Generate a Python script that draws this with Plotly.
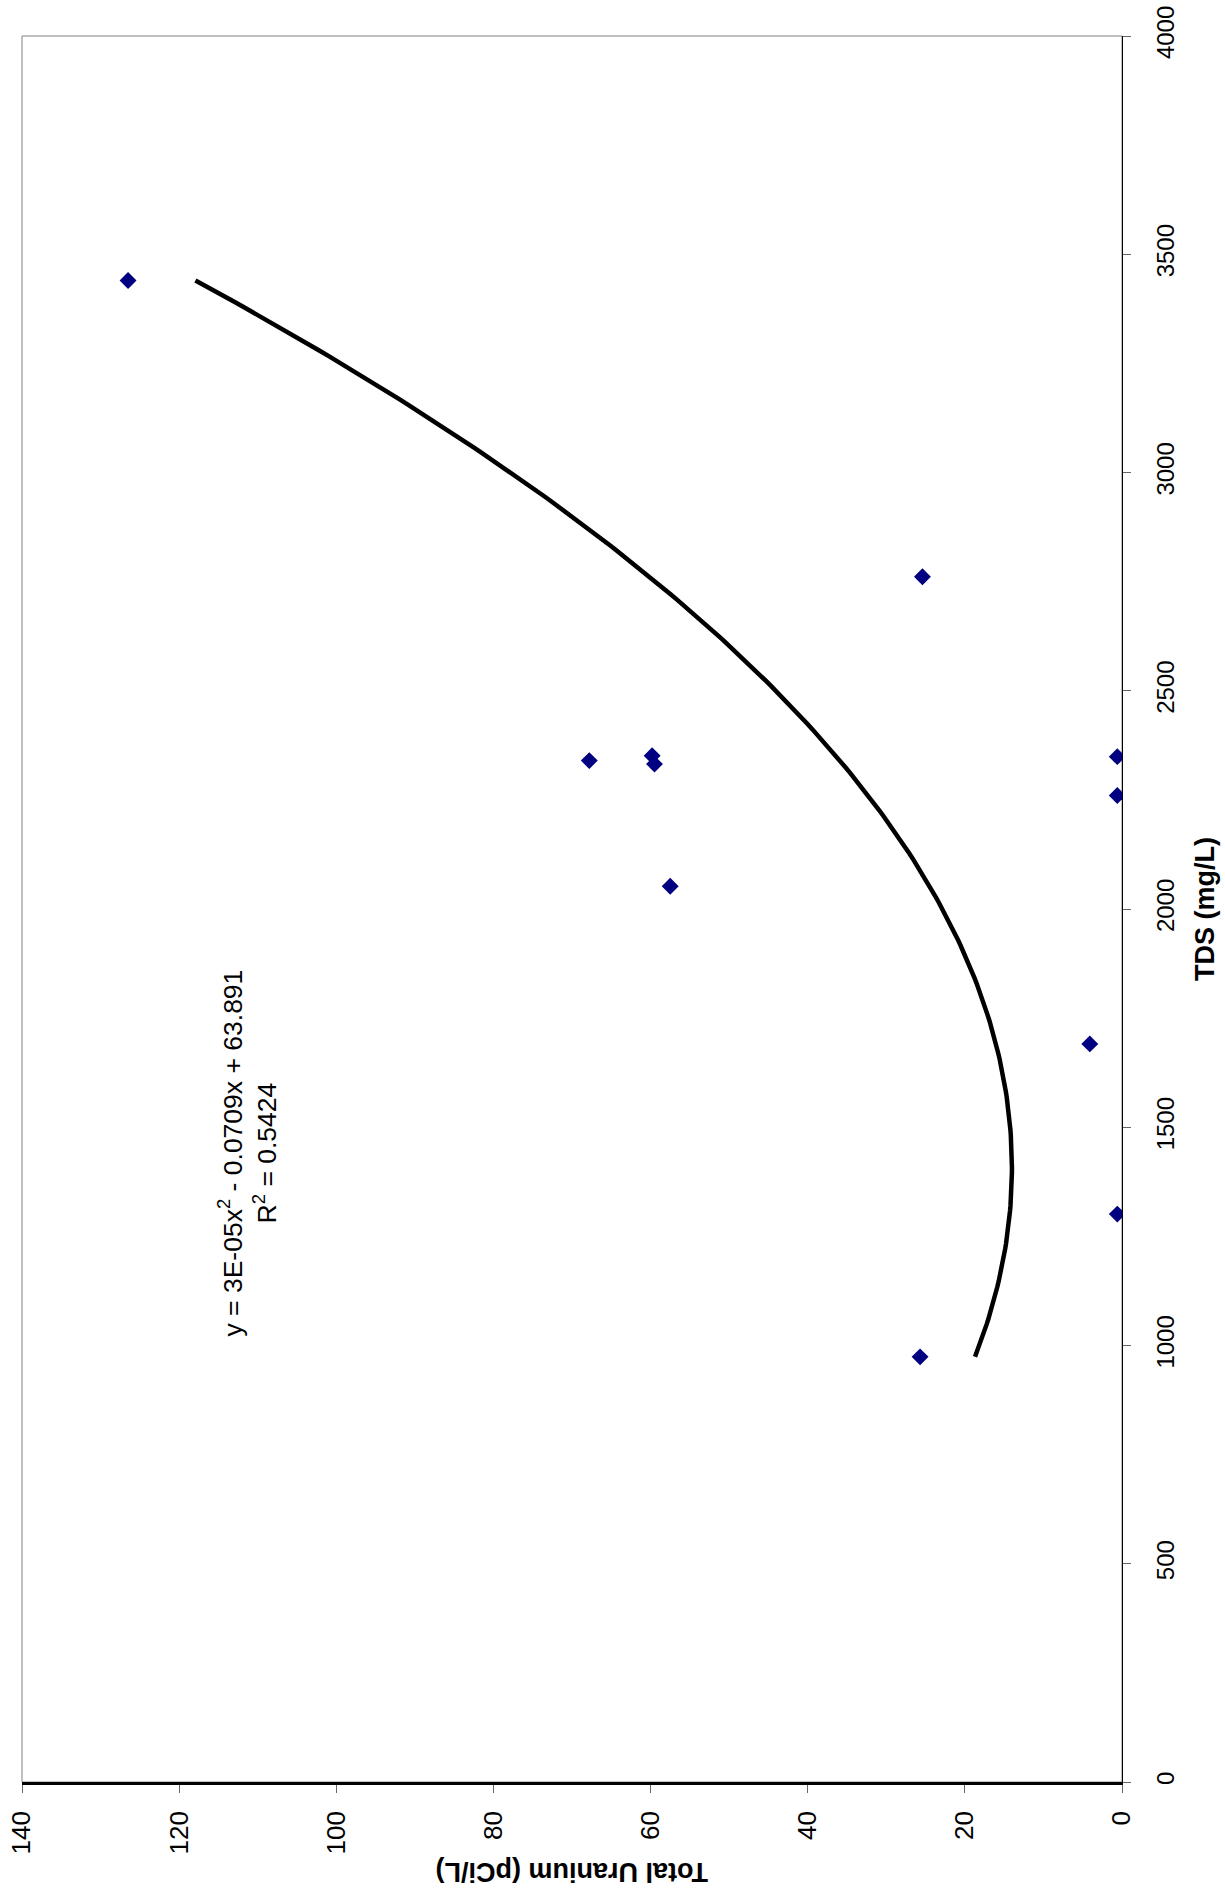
import numpy as np
import plotly.graph_objects as go

# Data: Total Uranium (pCi/L) vs TDS (mg/L)
tds = [3440, 2761, 2340, 2351, 2332, 2052, 2349, 2260, 1691, 1301, 974]
uranium = [126.5, 25.4, 67.8, 59.8, 59.5, 57.5, 0.6, 0.6, 4.1, 0.6, 25.7]

x_ticks = [0, 20, 40, 60, 80, 100, 120, 140]
y_ticks = [0, 500, 1000, 1500, 2000, 2500, 3000, 3500, 4000]

equation_text = "y = 3E-05x<sup>2</sup> - 0.0709x + 63.891<br>R<sup>2</sup> = 0.5424"

# Polynomial (order 2) trendline fitted to the data, as in the source chart
coef = np.polyfit(tds, uranium, 2)
t_line = np.linspace(min(tds), max(tds), 200)
u_line = np.polyval(coef, t_line)

FONT = "Liberation Sans, Arial, sans-serif"

fig = go.Figure()
fig.add_trace(go.Scatter(
    x=u_line, y=t_line, mode="lines",
    line=dict(color="black", width=4.5),
    hoverinfo="skip", showlegend=False))
fig.add_trace(go.Scatter(
    x=uranium, y=tds, mode="markers",
    marker=dict(symbol="diamond", color="#000080", size=13,
                line=dict(width=0)),
    showlegend=False))

fig.update_layout(
    width=1225, height=1896,
    margin=dict(l=22, r=103, t=36, b=114, autoexpand=False),
    paper_bgcolor="white", plot_bgcolor="white",
    font=dict(family=FONT, color="black"),
    xaxis=dict(
        range=[140, 0], tickvals=x_ticks, ticktext=[str(v) for v in x_ticks],
        tickangle=-90, tickfont=dict(size=26, family=FONT),
        ticks="outside", ticklen=8, tickcolor="#666666", tickwidth=1,
        ticklabelstandoff=8, ticklabeloverflow="allow", automargin=False,
        showline=True, linecolor="black", linewidth=2.5,
        showgrid=False, zeroline=False),
    yaxis=dict(
        range=[0, 4000], side="right", tickvals=y_ticks,
        ticktext=[str(v) for v in y_ticks],
        tickangle=-90, tickfont=dict(size=24, family=FONT),
        ticks="outside", ticklen=8, tickcolor="#666666", tickwidth=1,
        ticklabelstandoff=14, ticklabeloverflow="allow", automargin=False,
        showline=True, linecolor="black", linewidth=1,
        showgrid=False, zeroline=False),
    shapes=[dict(type="rect", xref="paper", yref="paper", x0=0, x1=1, y0=0, y1=1,
                 line=dict(color="#808080", width=1), layer="below")],
    annotations=[
        dict(text="<b>TDS (mg/L)</b>", xref="paper", yref="paper",
             x=1.0755, y=0.5, xanchor="center", yanchor="middle",
             textangle=-90, showarrow=False, font=dict(size=27, family=FONT)),
        dict(text="<b>Total Uranium (pCi/L)</b>", xref="paper", yref="paper",
             x=0.5, y=-0.0515, xanchor="center", yanchor="middle",
             textangle=180, showarrow=False, font=dict(size=27, family=FONT)),
        dict(text=equation_text, xref="x", yref="y",
             x=111.3, y=1441, xanchor="center", yanchor="middle",
             textangle=-90, showarrow=False, align="center",
             font=dict(size=26.5, family=FONT)),
    ],
)

fig.write_html(
    "out.html",
    config={"displayModeBar": False},
    post_script="document.body.style.margin='0';document.body.style.overflow='hidden';",
)
